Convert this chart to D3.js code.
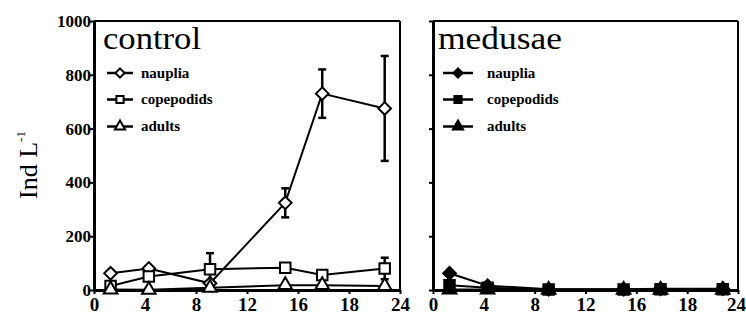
<!DOCTYPE html>
<html><head><meta charset="utf-8">
<script src="https://cdn.jsdelivr.net/npm/d3@7"></script>
<style>body{margin:0;background:#fff}svg{display:block}</style>
</head><body><svg id="c" width="746" height="320"></svg>
<script>
const xTickVals = [0,4,8,12,16,20,24];
const xTickLabels = ["0","4","8","12","16","18","24"];
const yTickVals = [0,200,400,600,800,1000];
const times = [1.3, 4.3, 9.1, 15, 17.9, 22.8];
const seriesNames = ["nauplia","copepodids","adults"];
const ctrlNauplia = [62, 80, 25, 324, 730, 675];
const ctrlNaupliaErr = [0, 0, 0, 54, 90, 195];
const ctrlCopepodids = [15, 50, 77, 83, 56, 80];
const ctrlCopepodidsErr = [0, 0, 60, 12, 0, 40];
const ctrlAdults = [2, 1, 8, 18, 18, 15];
const medNauplia = [62, 16, 3, 3, 5, 5];
const medCopepodids = [18, 8, 2, 2, 3, 3];
const medAdults = [2, 2, 1, 1, 1, 1];

const svg = d3.select("#c");
const serif = "'Liberation Serif','Times New Roman',serif";
const panels = [
  {title:"control", titleW:98, left:94, right:400, filled:false, labels:true,
   data:[ctrlNauplia, ctrlCopepodids, ctrlAdults], err:[ctrlNaupliaErr, ctrlCopepodidsErr, null]},
  {title:"medusae", titleW:124, left:433, right:738, filled:true, labels:false,
   data:[medNauplia, medCopepodids, medAdults], err:[null,null,null]}
];
const plotTop = 21, plotBottom = 290;
const squareDiamond = { draw(ctx, size) { const r = Math.sqrt(size/2); ctx.moveTo(0,-r); ctx.lineTo(r,0); ctx.lineTo(0,r); ctx.lineTo(-r,0); ctx.closePath(); } };
const shapes = [squareDiamond, d3.symbolSquare, d3.symbolTriangle];
const sizes = [80, 110, 80];
const legendSizes = [42, 52, 45];

panels.forEach(p => {
  const x = d3.scaleLinear().domain([0,24]).range([p.left, p.right]);
  const y = d3.scaleLinear().domain([0,1000]).range([plotBottom, plotTop]);
  const g = svg.append("g");
  g.append("line").attr("x1",p.left).attr("x2",p.right).attr("y1",plotTop).attr("y2",plotTop).attr("stroke","#000").attr("stroke-width",2);
  g.append("line").attr("x1",p.right).attr("x2",p.right).attr("y1",plotTop).attr("y2",plotBottom).attr("stroke","#000").attr("stroke-width",2);
  const xa = g.append("g").attr("transform",`translate(0,${plotBottom})`)
    .call(d3.axisBottom(x).tickValues(xTickVals).tickFormat((d,i)=>xTickLabels[i]).tickSize(4).tickSizeOuter(0));
  xa.select(".domain").attr("stroke-width",3);
  xa.selectAll(".tick line").attr("stroke-width",2);
  xa.selectAll("text").attr("font-family",serif).attr("font-weight","bold").attr("font-size",19).attr("dy","0.95em").attr("y",3)
    .attr("x",(d,i)=> (p.filled && i===xTickVals.length-1) ? -2 : 0);
  const ya = g.append("g").attr("transform",`translate(${p.left},0)`)
    .call(d3.axisLeft(y).tickValues(yTickVals).tickFormat(p.labels ? d3.format("d") : "").tickSize(4).tickSizeOuter(0));
  ya.select(".domain").attr("stroke-width",3);
  ya.selectAll(".tick line").attr("stroke-width",2);
  ya.selectAll("text").attr("font-family",serif).attr("font-weight","bold").attr("font-size",17).attr("x",-3);

  g.append("text").attr("x", x(0)+ (p.filled?5:9)).attr("y",49).attr("font-family",serif).attr("font-size",32)
    .attr("textLength", p.titleW).attr("lengthAdjust","spacingAndGlyphs").text(p.title);

  const line = d3.line().x((d,i)=>x(times[i])).y(d=>y(d));
  p.data.forEach((vals, si) => {
    g.append("path").attr("d", line(vals)).attr("fill","none").attr("stroke","#000").attr("stroke-width",2);
  });
  p.data.forEach((vals, si) => {
    const e = p.err[si];
    if (e) {
      vals.forEach((v,i) => {
        if (!e[i]) return;
        const cx = x(times[i]);
        g.append("line").attr("x1",cx).attr("x2",cx).attr("y1",y(v-e[i])).attr("y2",y(v+e[i])).attr("stroke","#000").attr("stroke-width",2.5);
        [v-e[i], v+e[i]].forEach(vv => g.append("line").attr("x1",cx-4).attr("x2",cx+4).attr("y1",y(vv)).attr("y2",y(vv)).attr("stroke","#000").attr("stroke-width",2.5));
      });
    }
  });
  p.data.forEach((vals, si) => {
    vals.forEach((v,i) => {
      g.append("path").attr("d", d3.symbol().type(shapes[si]).size(sizes[si])())
        .attr("transform",`translate(${x(times[i])},${y(v)})`)
        .attr("fill", p.filled ? "#000" : "#fff").attr("stroke","#000").attr("stroke-width",2);
    });
  });
  const lx0 = p.filled ? x(0)+10 : x(0)+13, lx1 = p.filled ? x(0)+40 : x(0)+39;
  const tx = p.filled ? x(0)+54 : x(0)+47;
  const ly = [73, 99.5, 126.5];
  seriesNames.forEach((n, si) => {
    g.append("line").attr("x1",lx0).attr("x2",lx1).attr("y1",ly[si]).attr("y2",ly[si]).attr("stroke","#000").attr("stroke-width",2.5);
    g.append("path").attr("d", d3.symbol().type(shapes[si]).size(legendSizes[si])())
      .attr("transform",`translate(${(lx0+lx1)/2},${ly[si]})`)
      .attr("fill", p.filled ? "#000" : "#fff").attr("stroke","#000").attr("stroke-width",2);
    g.append("text").attr("x",tx).attr("y",ly[si]).attr("dy","0.33em").attr("font-family",serif).attr("font-weight","bold").attr("font-size",15).text(n);
  });
});

const yt = svg.append("text").attr("transform","translate(37,165) rotate(-90)").attr("text-anchor","middle")
  .attr("font-family",serif).attr("font-size",26);
yt.append("tspan").text("Ind L");
yt.append("tspan").attr("font-size",13).attr("dy","-0.9em").text("-1");
</script></body></html>
